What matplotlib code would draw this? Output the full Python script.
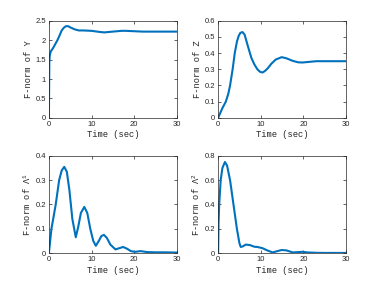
import matplotlib
matplotlib.use('Agg')
import matplotlib.pyplot as plt

# F-norm of Y
t_y = [0, 0.1, 0.2, 0.3, 0.5, 1, 1.5, 2, 2.5, 3, 3.5, 4, 4.5, 5, 6, 7, 8, 10,
       12, 13, 15, 17, 18, 20, 22, 25, 30]
v_y = [0, 1.45, 1.6, 1.66, 1.72, 1.8, 1.9, 2.0, 2.12, 2.25, 2.32, 2.36, 2.36, 2.33,
       2.28, 2.25, 2.25, 2.24, 2.21, 2.2, 2.22, 2.24, 2.24, 2.23, 2.22, 2.22, 2.22]

# F-norm of Z
t_z = [0, 0.5, 1, 1.8, 2.4, 2.8, 3.4, 3.9, 4.4, 4.8, 5.2, 5.7, 6.2, 6.9, 7.8, 8.5,
       9.2, 9.8, 10.4, 11, 11.6, 12.5, 13.5, 14.9, 16, 17.5, 18.8, 19.8, 21, 23, 25,
       30]
v_z = [0, 0.03, 0.06, 0.1, 0.15, 0.2, 0.3, 0.4, 0.47, 0.505, 0.525, 0.53, 0.515,
       0.45, 0.37, 0.33, 0.3, 0.285, 0.28, 0.29, 0.305, 0.335, 0.36, 0.375, 0.368,
       0.352, 0.343, 0.342, 0.345, 0.35, 0.35, 0.35]

# F-norm of Lambda^1
t_l1 = [0, 0.6, 1.6, 2.4, 3.0, 3.6, 4.2, 4.8, 5.5, 6.3, 6.9, 7.5, 8.3, 9.0, 9.7,
        10.4, 11.0, 11.7, 12.3, 12.9, 13.6, 14.4, 15.6, 16.5, 17.4, 18.3, 19.2,
        20.2, 21.5, 23, 25, 27, 30]
v_l1 = [0, 0.1, 0.2, 0.3, 0.34, 0.355, 0.335, 0.26, 0.14, 0.065, 0.11, 0.165, 0.19,
        0.165, 0.1, 0.05, 0.03, 0.05, 0.07, 0.075, 0.062, 0.035, 0.015, 0.02, 0.025,
        0.018, 0.008, 0.005, 0.008, 0.004, 0.003, 0.003, 0.002]

# F-norm of Lambda^2
t_l2 = [0, 0.1, 0.25, 0.6, 1.0, 1.6, 2.1, 2.8, 3.6, 4.4, 5.0, 5.3, 5.8, 6.5, 7.5,
        8.5, 9.2, 10.4, 11.5, 12.8, 13.8, 14.9, 16, 17.5, 18.8, 19.8, 21, 23, 25, 30]
v_l2 = [0, 0.25, 0.4, 0.6, 0.7, 0.75, 0.72, 0.6, 0.4, 0.2, 0.08, 0.05, 0.055, 0.07,
        0.065, 0.052, 0.05, 0.04, 0.022, 0.005, 0.015, 0.025, 0.022, 0.005, 0.008,
        0.01, 0.005, 0.002, 0.001, 0.001]

panels = [
    (t_y, v_y, 'F-norm of Y', [0, 0.5, 1, 1.5, 2, 2.5], ['0', '0.5', '1', '1.5', '2', '2.5']),
    (t_z, v_z, 'F-norm of Z', [0, 0.1, 0.2, 0.3, 0.4, 0.5, 0.6],
     ['0', '0.1', '0.2', '0.3', '0.4', '0.5', '0.6']),
    (t_l1, v_l1, r'F-norm of $\Lambda^1$', [0, 0.1, 0.2, 0.3, 0.4],
     ['0', '0.1', '0.2', '0.3', '0.4']),
    (t_l2, v_l2, r'F-norm of $\Lambda^2$', [0, 0.2, 0.4, 0.6, 0.8],
     ['0', '0.2', '0.4', '0.6', '0.8']),
]
x_ticks = [0, 10, 20, 30]

plt.rcParams['mathtext.fontset'] = 'custom'
plt.rcParams['mathtext.rm'] = 'Liberation Mono'
plt.rcParams['mathtext.it'] = 'Liberation Mono'

fig = plt.figure(figsize=(3.82, 2.84), dpi=100)
positions = [
    [0.128, 0.585, 0.335, 0.342],
    [0.571, 0.585, 0.335, 0.342],
    [0.128, 0.109, 0.335, 0.342],
    [0.571, 0.109, 0.335, 0.342],
]
edge = '#262626'
for pos, (t, v, ylab, yt, ytl) in zip(positions, panels):
    ax = fig.add_axes(pos)
    ax.plot(t, v, color='#0072BD', linewidth=1.5)
    ax.set_xlim(0, 30)
    ax.set_ylim(yt[0], yt[-1])
    ax.set_xticks(x_ticks)
    ax.set_xticklabels([str(x) for x in x_ticks], fontsize=5.5,
                       family=['Liberation Sans', 'DejaVu Sans'])
    ax.set_yticks(yt)
    ax.set_yticklabels(ytl, fontsize=5.5, family=['Liberation Sans', 'DejaVu Sans'])
    ax.tick_params(direction='in', length=2, width=0.5, colors=edge, pad=2,
                   top=True, right=True)
    for s in ax.spines.values():
        s.set_linewidth(0.5)
        s.set_color(edge)
    ax.set_xlabel('Time (sec)', fontsize=6.3, family='Liberation Mono', color=edge,
                  labelpad=2)
    ax.set_ylabel(ylab, fontsize=6.3, family='Liberation Mono', color=edge, labelpad=2)

fig.savefig('out.png', dpi=100)
